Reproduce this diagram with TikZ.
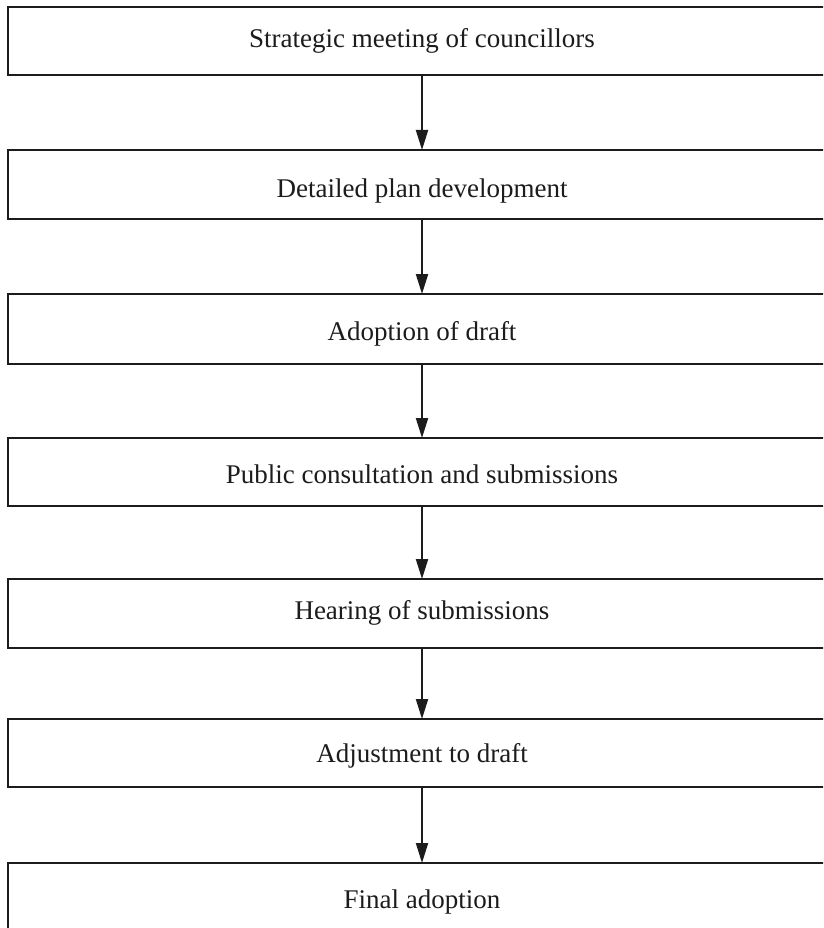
\documentclass[tikz,border=0pt]{standalone}
\usepackage{fontspec}
\setmainfont{Liberation Serif}
\usetikzlibrary{arrows.meta}

\definecolor{ink}{HTML}{1C1C1C}

\tikzset{
  stagebox/.style={draw=ink, line width=2pt, minimum width=828pt, inner sep=0pt, outer sep=0pt},
  stagetext/.style={anchor=base, inner sep=0pt, text=ink, font=\fontsize{27}{32}\selectfont},
  flow/.style={draw=ink, line width=2pt, -{Triangle[length=20pt,width=12pt]}}
}

\begin{document}
\begin{tikzpicture}[x=1pt, y=-1pt]
  \clip (0,0) rectangle (823,928);
  \fill[white] (0,0) rectangle (823,928);

  % stages of the plan process
  \node[stagebox, minimum height=68pt] (s1) at (422,41)    {};
  \node[stagebox, minimum height=69pt] (s2) at (422,184.5) {};
  \node[stagebox, minimum height=70pt] (s3) at (422,329)   {};
  \node[stagebox, minimum height=68pt] (s4) at (422,472)   {};
  \node[stagebox, minimum height=69pt] (s5) at (422,613.5) {};
  \node[stagebox, minimum height=68pt] (s6) at (422,753)   {};
  \node[stagebox, minimum height=68pt] (s7) at (422,897)   {};

  % stage labels
  \node[stagetext] (t1) at (422,48)  {Strategic meeting of councillors};
  \node[stagetext] (t2) at (422,197) {Detailed plan development};
  \node[stagetext] (t3) at (422,340) {Adoption of draft};
  \node[stagetext] (t4) at (422,483) {Public consultation and submissions};
  \node[stagetext] (t5) at (422,619) {Hearing of submissions};
  \node[stagetext] (t6) at (422,762) {Adjustment to draft};
  \node[stagetext] (t7) at (422,908) {Final adoption};

  % flow between stages
  \draw[flow] (s1.south) -- (s2.north);
  \draw[flow] (s2.south) -- (s3.north);
  \draw[flow] (s3.south) -- (s4.north);
  \draw[flow] (s4.south) -- (s5.north);
  \draw[flow] (s5.south) -- (s6.north);
  \draw[flow] (s6.south) -- (s7.north);
\end{tikzpicture}
\end{document}
